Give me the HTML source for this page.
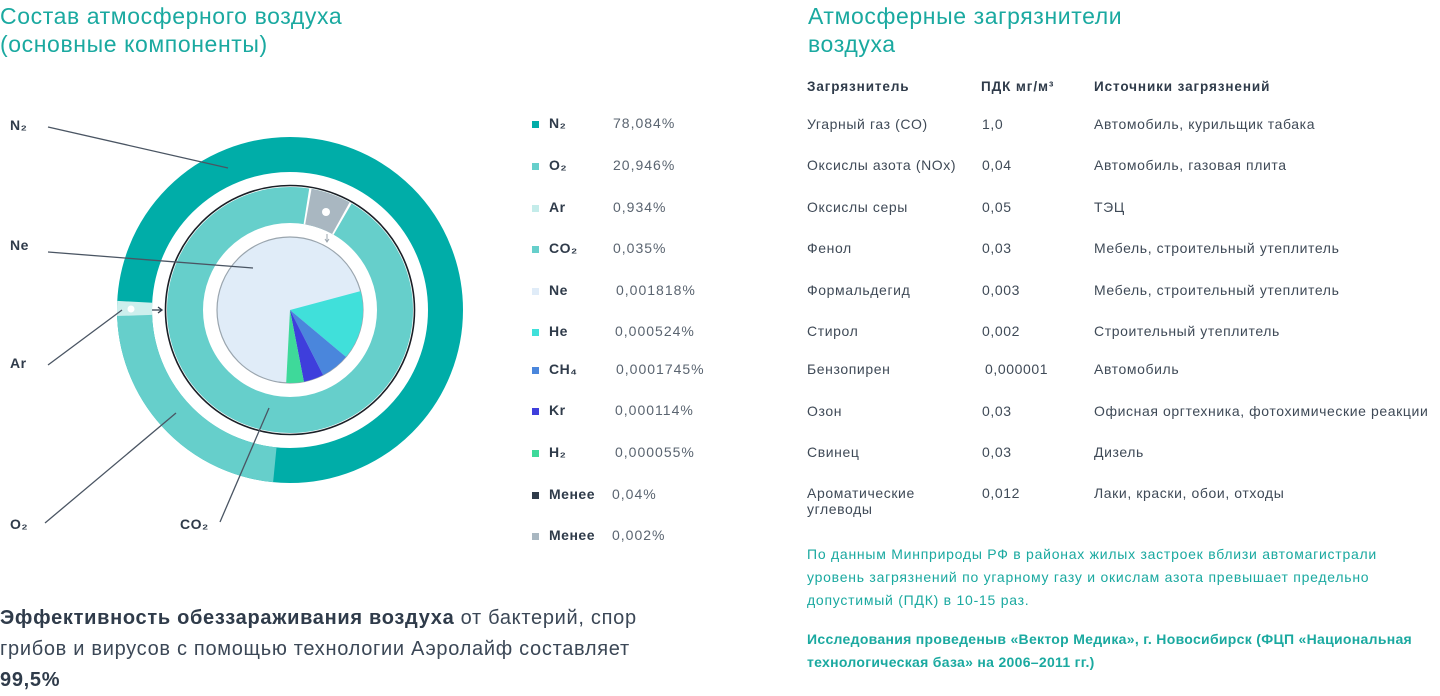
<!DOCTYPE html>
<html><head><meta charset="utf-8"><style>
body{margin:0;width:1440px;height:696px;background:#fff;position:relative;overflow:hidden;font-family:"Liberation Sans","Noto Sans CJK SC",sans-serif;color:#3b4756}
.a{position:absolute;white-space:nowrap}
.t{color:#1aa9a0;font-size:23px;line-height:28px;letter-spacing:0.6px}
.lg{font-size:14px;font-weight:bold;color:#2f3b4a;letter-spacing:0.5px}
.v{font-size:14px;color:#5a6470;letter-spacing:1px}
.sq{position:absolute;width:7px;height:7px}
.h{font-size:13.5px;font-weight:bold;color:#2f3b4a;letter-spacing:0.9px}
.c{font-size:14px;color:#3f4a57;letter-spacing:0.6px}
</style></head><body>
<div class="a t" style="left:0;top:2px">Состав атмосферного воздуха<br>(основные компоненты)</div>
<div class="a t" style="left:808px;top:2px">Атмосферные загрязнители<br>воздуха</div>

<svg class="a" style="left:0;top:0" width="520" height="560">
<circle cx="290" cy="310" r="155.5" fill="none" stroke="#00ada8" stroke-width="35"/>
<circle cx="290" cy="310" r="155.5" fill="none" stroke="#66cfcb" stroke-width="35" stroke-dasharray="223.7 2000" transform="rotate(95.6 290 310)"/>
<circle cx="290" cy="310" r="155.5" fill="none" stroke="#cdefed" stroke-width="35" stroke-dasharray="13.6 2000" transform="rotate(178 290 310)"/>
<circle cx="131" cy="309" r="3.5" fill="#fff"/>
<circle cx="290" cy="310" r="105" fill="none" stroke="#66cfcb" stroke-width="36"/>
<circle cx="290" cy="310" r="105" fill="none" stroke="#a9b7c1" stroke-width="36" stroke-dasharray="36.6 2000" transform="rotate(-80 290 310)"/>
<circle cx="290" cy="310" r="105" fill="none" stroke="#fff" stroke-width="36" stroke-dasharray="2 34.6 2 2000" transform="rotate(-81 290 310)"/>
<circle cx="326" cy="212" r="4" fill="#fff"/>
<circle cx="290" cy="310" r="124.5" fill="none" stroke="#1a1f26" stroke-width="1.6"/>
<circle cx="290" cy="310" r="73" fill="#e0ecf8" stroke="#9aa5ae" stroke-width="1.2"/>
<path d="M290 310L360.5 291.1A73 73 0 0 1 345.9 356.9Z" fill="#40e0da"/>
<path d="M290 310L345.9 356.9A73 73 0 0 1 323.1 375Z" fill="#4a86dc"/>
<path d="M290 310L323.1 375A73 73 0 0 1 303.9 381.7Z" fill="#3e3edc"/>
<path d="M290 310L303.9 381.7A73 73 0 0 1 286.2 382.9Z" fill="#3ed99a"/>
<path d="M152 310H162M158 307L162 310L158 313" stroke="#2f3b4a" stroke-width="1.3" fill="none"/>
<path d="M327 234V241M325 239L327 242L329 239" stroke="#9aa5ae" stroke-width="1" fill="none"/>
<g stroke="#4a5563" stroke-width="1.3">
<line x1="48" y1="127" x2="228" y2="168"/>
<line x1="48" y1="252" x2="253" y2="268"/>
<line x1="48" y1="365" x2="122" y2="310"/>
<line x1="45" y1="523" x2="176" y2="413"/>
<line x1="220" y1="522" x2="269" y2="408"/>
</g>
</svg>
<div class="a lg" style="left:10px;top:117px">N₂</div>
<div class="a lg" style="left:10px;top:237px">Ne</div>
<div class="a lg" style="left:10px;top:355px">Ar</div>
<div class="a lg" style="left:10px;top:516px">O₂</div>
<div class="a lg" style="left:180px;top:516px">CO₂</div>

<div class="sq" style="left:532px;top:121px;background:#00ada8"></div><div class="a lg" style="left:549px;top:115px">N₂</div><div class="a v" style="left:613px;top:115px">78,084%</div>
<div class="sq" style="left:532px;top:163px;background:#66cfcb"></div><div class="a lg" style="left:549px;top:157px">O₂</div><div class="a v" style="left:613px;top:157px">20,946%</div>
<div class="sq" style="left:532px;top:205px;background:#c4ecea"></div><div class="a lg" style="left:549px;top:199px">Ar</div><div class="a v" style="left:613px;top:199px">0,934%</div>
<div class="sq" style="left:532px;top:246px;background:#66cfcb"></div><div class="a lg" style="left:549px;top:240px">CO₂</div><div class="a v" style="left:613px;top:240px">0,035%</div>
<div class="sq" style="left:532px;top:288px;background:#e0ecf8"></div><div class="a lg" style="left:549px;top:282px">Ne</div><div class="a v" style="left:616px;top:282px">0,001818%</div>
<div class="sq" style="left:532px;top:329px;background:#40e0da"></div><div class="a lg" style="left:549px;top:323px">He</div><div class="a v" style="left:615px;top:323px">0,000524%</div>
<div class="sq" style="left:532px;top:367px;background:#4a86dc"></div><div class="a lg" style="left:549px;top:361px">CH₄</div><div class="a v" style="left:616px;top:361px">0,0001745%</div>
<div class="sq" style="left:532px;top:408px;background:#3e3edc"></div><div class="a lg" style="left:549px;top:402px">Kr</div><div class="a v" style="left:615px;top:402px">0,000114%</div>
<div class="sq" style="left:532px;top:450px;background:#3ed99a"></div><div class="a lg" style="left:549px;top:444px">H₂</div><div class="a v" style="left:615px;top:444px">0,000055%</div>
<div class="sq" style="left:532px;top:492px;background:#2f3b4a"></div><div class="a lg" style="left:549px;top:486px">Менее</div><div class="a v" style="left:612px;top:486px">0,04%</div>
<div class="sq" style="left:532px;top:533px;background:#a9b7c1"></div><div class="a lg" style="left:549px;top:527px">Менее</div><div class="a v" style="left:612px;top:527px">0,002%</div>

<div class="a" style="left:0;top:603px;font-size:20px;line-height:31px;color:#3b4756;letter-spacing:0.7px"><b style="color:#2f3b4a">Эффективность обеззараживания воздуха</b> от бактерий, спор<br>грибов и вирусов с помощью технологии Аэролайф составляет<br><b style="color:#2f3b4a">99,5%</b></div>

<div class="a h" style="left:807px;top:79px">Загрязнитель</div>
<div class="a h" style="left:981px;top:79px">ПДК мг/м³</div>
<div class="a h" style="left:1094px;top:79px">Источники загрязнений</div>

<div class="a c" style="left:807px;top:116px">Угарный газ (CO)</div><div class="a c" style="left:982px;top:116px">1,0</div><div class="a c" style="left:1094px;top:116px">Автомобиль, курильщик табака</div>
<div class="a c" style="left:807px;top:157px">Оксислы азота (NOx)</div><div class="a c" style="left:982px;top:157px">0,04</div><div class="a c" style="left:1094px;top:157px">Автомобиль, газовая плита</div>
<div class="a c" style="left:807px;top:199px">Оксислы серы</div><div class="a c" style="left:982px;top:199px">0,05</div><div class="a c" style="left:1094px;top:199px">ТЭЦ</div>
<div class="a c" style="left:807px;top:240px">Фенол</div><div class="a c" style="left:982px;top:240px">0,03</div><div class="a c" style="left:1094px;top:240px">Мебель, строительный утеплитель</div>
<div class="a c" style="left:807px;top:282px">Формальдегид</div><div class="a c" style="left:982px;top:282px">0,003</div><div class="a c" style="left:1094px;top:282px">Мебель, строительный утеплитель</div>
<div class="a c" style="left:807px;top:323px">Стирол</div><div class="a c" style="left:982px;top:323px">0,002</div><div class="a c" style="left:1094px;top:323px">Строительный утеплитель</div>
<div class="a c" style="left:807px;top:361px">Бензопирен</div><div class="a c" style="left:985px;top:361px">0,000001</div><div class="a c" style="left:1094px;top:361px">Автомобиль</div>
<div class="a c" style="left:807px;top:403px">Озон</div><div class="a c" style="left:982px;top:403px">0,03</div><div class="a c" style="left:1094px;top:403px">Офисная оргтехника, фотохимические реакции</div>
<div class="a c" style="left:807px;top:444px">Свинец</div><div class="a c" style="left:982px;top:444px">0,03</div><div class="a c" style="left:1094px;top:444px">Дизель</div>
<div class="a c" style="left:807px;top:485px;line-height:16px">Ароматические<br>углеводы</div><div class="a c" style="left:982px;top:485px">0,012</div><div class="a c" style="left:1094px;top:485px">Лаки, краски, обои, отходы</div>

<div class="a" style="left:807px;top:543px;font-size:14px;line-height:23px;color:#1aa9a0;letter-spacing:0.75px">По данным Минприроды РФ в районах жилых застроек вблизи автомагистрали<br>уровень загрязнений по угарному газу и окислам азота превышает предельно<br>допустимый (ПДК) в 10-15 раз.</div>
<div class="a" style="left:807px;top:628px;font-size:14px;line-height:23px;color:#1aa9a0;font-weight:bold;letter-spacing:0.3px">Исследования проведеныв «Вектор Медика», г. Новосибирск (ФЦП «Национальная<br>технологическая база» на 2006–2011 гг.)</div>
</body></html>
